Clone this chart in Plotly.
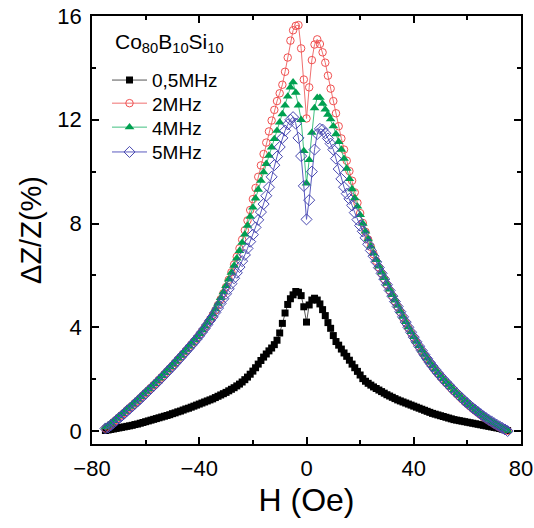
import plotly.graph_objects as go

H = list(range(-75, 76))

tick_vals_x = [-80, -40, 0, 40, 80]
tick_vals_y = [0, 4, 8, 12, 16]

z_05 = [0.02,0.04,0.06,0.08,0.10,0.12,0.14,0.16,0.18,0.20,0.22,0.25,0.27,0.30,0.33,0.36,0.39,0.42,0.45,0.48,0.51,0.54,0.57,0.60,0.63,
        0.67,0.70,0.74,0.77,0.81,0.85,0.88,0.92,0.96,1.00,1.04,1.08,1.12,1.16,1.20,1.24,1.29,1.34,1.39,1.44,1.49,1.55,1.61,1.67,1.74,
        1.81,1.89,1.98,2.08,2.19,2.31,2.44,2.58,2.72,2.85,2.97,3.09,3.20,3.33,3.50,3.78,4.15,4.55,4.88,5.10,5.25,5.38,5.35,5.22,4.79,4.20,
        4.86,5.05,5.12,5.05,4.90,4.68,4.45,4.18,3.96,3.68,3.45,3.31,3.16,3.01,2.88,2.73,2.58,2.44,2.30,2.16,2.02,1.92,1.84,1.77,1.70,
        1.64,1.58,1.52,1.46,1.40,1.35,1.30,1.25,1.20,1.16,1.12,1.08,1.04,1.00,0.96,0.92,0.88,0.84,0.80,0.76,0.72,0.68,0.65,0.62,0.59,
        0.56,0.53,0.50,0.47,0.44,0.42,0.40,0.38,0.36,0.34,0.32,0.30,0.28,0.26,0.24,0.22,0.20,0.18,0.16,0.14,0.12,0.10,0.07,0.05,0.02]

z_2 = [0.10,0.17,0.25,0.34,0.43,0.52,0.61,0.70,0.80,0.89,0.98,1.08,1.17,1.27,1.37,1.47,1.57,1.67,1.77,1.87,1.98,2.08,2.19,2.30,2.41,2.52,2.63,2.75,2.86,2.98,3.09,3.21,3.33,
       3.45,3.57,3.70,3.84,3.98,4.13,4.29,4.46,4.65,4.86,5.08,5.31,5.55,
       5.83,6.12,6.42,6.72,7.04,7.38,7.74,8.12,8.52,8.94,9.37,9.80,10.24,10.68,11.12,11.55,11.97,12.38,12.72,13.02,13.35,13.85,14.40,15.05,15.45,15.62,15.65,14.75,13.55,12.05,
       13.25,14.30,14.90,15.10,14.92,14.60,14.20,13.70,13.20,12.72,
       12.25,11.75,11.28,10.85,10.42,10.02,9.65,9.20,8.80,8.40,
       8.02,7.68,7.38,7.10,6.82,6.56,6.31,6.08,5.86,5.64,
       5.42,5.21,5.00,4.79,4.58,4.37,4.17,3.97,3.78,3.59,
       3.41,3.24,3.07,2.91,2.76,2.61,2.47,2.34,2.21,2.09,
       1.97,1.86,1.75,1.64,1.53,1.43,1.33,1.23,1.13,1.04,
       0.95,0.86,0.78,0.70,0.62,0.54,0.47,0.40,0.34,0.27,
       0.21,0.15,0.10,0.05,0.01]

z_4 = [0.15,0.22,0.30,0.39,0.48,0.57,0.66,0.75,0.85,0.94,1.03,1.13,1.22,1.32,1.42,1.52,1.62,1.72,1.82,1.92,2.03,2.13,2.24,2.35,2.46,2.57,2.68,2.80,2.91,3.03,3.14,3.26,3.38,
       3.50,3.62,3.75,3.89,4.03,4.18,4.34,4.51,4.70,4.91,5.13,5.36,5.60,5.85,6.11,6.38,6.66,6.95,7.26,7.58,7.92,8.27,8.62,8.97,9.31,9.65,9.98,10.30,10.62,10.94,11.26,11.58,11.90,12.22,12.55,12.90,13.25,13.45,13.05,12.55,12.00,10.80,9.55,
       10.45,11.50,12.45,12.85,12.85,12.62,12.40,12.20,12.02,11.75,
       11.45,11.15,10.85,10.50,10.12,9.72,9.33,8.98,8.66,8.33,
       8.00,7.70,7.40,7.12,6.85,6.60,6.35,6.12,5.90,5.68,
       5.46,5.25,5.04,4.83,4.62,4.41,4.21,4.01,3.82,3.63,
       3.45,3.28,3.11,2.95,2.80,2.65,2.51,2.38,2.25,2.13,
       2.01,1.90,1.79,1.68,1.57,1.47,1.37,1.27,1.17,1.08,
       0.99,0.90,0.82,0.74,0.66,0.58,0.51,0.44,0.38,0.31,
       0.25,0.19,0.13,0.07,0.02]

z_5 = [0.10,0.14,0.22,0.31,0.40,0.49,0.58,0.67,0.77,0.86,0.95,1.05,1.14,1.24,1.34,1.44,1.54,1.64,1.74,1.84,1.95,2.05,2.16,2.27,2.38,2.49,2.60,2.72,2.83,2.95,3.06,3.18,3.30,
       3.42,3.54,3.67,3.81,3.95,4.10,4.26,
       4.40,4.57,4.74,4.92,5.10,5.29,5.48,5.68,5.89,6.10,6.32,6.55,6.79,7.04,7.30,7.57,7.85,8.14,8.44,8.75,9.07,9.40,9.80,10.25,10.58,10.95,11.30,11.58,11.82,12.00,12.10,11.85,11.30,10.60,9.45,8.16,
       8.90,10.00,10.85,11.45,11.65,11.62,11.48,11.28,11.08,10.85,
       10.50,10.10,9.72,9.40,9.15,8.95,8.70,8.42,8.15,7.92,
       7.70,7.45,7.20,6.96,6.74,6.52,6.30,6.08,5.86,5.64,
       5.42,5.20,4.99,4.80,4.60,4.40,4.20,4.00,3.81,3.62,
       3.44,3.27,3.10,2.94,2.79,2.64,2.50,2.37,2.24,2.12,
       2.00,1.89,1.78,1.67,1.56,1.46,1.36,1.26,1.16,1.07,
       0.98,0.89,0.81,0.73,0.65,0.57,0.50,0.43,0.37,0.30,
       0.24,0.18,0.12,0.06,0.00]

for nm, s in [("z_05", z_05), ("z_2", z_2), ("z_4", z_4), ("z_5", z_5)]:
    if len(s) != len(H):
        print(nm, len(s))

FONT = "Liberation Sans, Arial, sans-serif"

series = [
    ("0,5MHz", z_05, dict(symbol="square", size=7, color="#000000"), "#555555"),
    ("2MHz", z_2, dict(symbol="circle-open", size=7.5, color="#F05050", line=dict(width=1)), "#F07070"),
    ("4MHz", z_4, dict(symbol="triangle-up", size=8.5, color="#00A050"), "#40C080"),
    ("5MHz", z_5, dict(symbol="diamond-open", size=8.5, color="#4848B0", line=dict(width=1)), "#5A5ABF"),
]
legend_ids = ["legend", "legend2", "legend3", "legend4"]
legend_y = [0.850, 0.796, 0.740, 0.682]

fig = go.Figure()
for (name, ys, mk, lc), lid in zip(series, legend_ids):
    fig.add_trace(go.Scatter(x=H, y=ys, mode="lines+markers", name=name,
                             marker=mk, line=dict(color=lc, width=1), legend=lid))

axis_common = dict(showline=True, linecolor="black", linewidth=1.5, mirror="allticks",
                   ticks="inside", ticklen=7, tickwidth=1.5, tickcolor="black",
                   showgrid=False, zeroline=False, automargin=False,
                   ticklabeloverflow="allow",
                   tickfont=dict(family=FONT, size=22, color="black"))

fig.update_xaxes(range=[-80, 80], tickvals=tick_vals_x, **axis_common, ticklabelstandoff=4,
                 minor=dict(tickvals=[-60, -20, 20, 60], ticks="inside", ticklen=4, tickwidth=1.5, tickcolor="black"),
                 title=dict(text="H (Oe)", font=dict(family=FONT, size=32, color="black"), standoff=8))
fig.update_yaxes(range=[-0.5, 16], tickvals=tick_vals_y, **axis_common, ticklabelstandoff=4,
                 minor=dict(tickvals=[2, 6, 10, 14], ticks="inside", ticklen=4, tickwidth=1.5, tickcolor="black"),
                 title=dict(text="ΔZ/Z(%)", font=dict(family=FONT, size=29, color="black"), standoff=7))

fig.add_annotation(text="Co<sub>80</sub>B<sub>10</sub>Si<sub>10</sub>", xref="paper", yref="paper",
                   x=0.05, y=0.937, xanchor="left", yanchor="middle", showarrow=False,
                   font=dict(family=FONT, size=21, color="black"))

leg_common = dict(x=0.035, xanchor="left", yanchor="middle", itemwidth=35,
                  font=dict(family=FONT, size=19, color="black"),
                  bgcolor="rgba(0,0,0,0)")
layout_legends = {lid: dict(y=ly, **leg_common) for lid, ly in zip(legend_ids, legend_y)}

fig.update_layout(
    width=534, height=528,
    margin=dict(l=92, r=13, t=16, b=84),
    plot_bgcolor="white", paper_bgcolor="white",
    showlegend=True,
    hovermode=False,
    **layout_legends,
)

# remove the default 8px page margin so the 534x528 figure fills the window exactly
fig.write_html("out.html", config={"displayModeBar": False},
               post_script="document.body.style.margin='0px';document.documentElement.style.overflow='hidden';")
